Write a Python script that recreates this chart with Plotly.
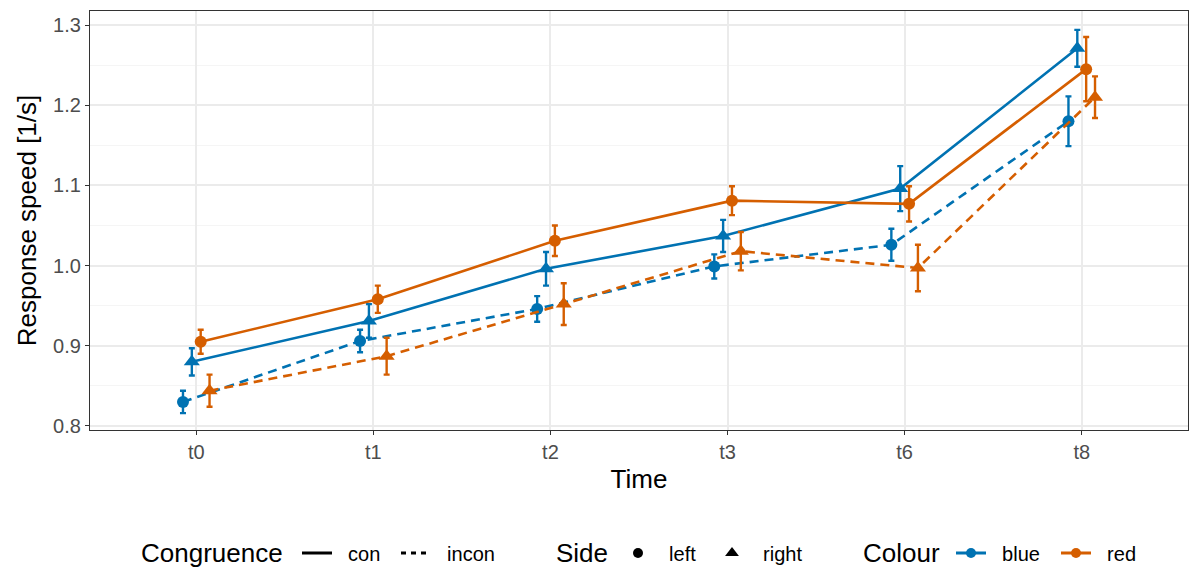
import plotly.graph_objects as go

times = ["t0", "t1", "t2", "t3", "t6", "t8"]

blue_con = [0.880, 0.931, 0.996, 1.037, 1.096, 1.271]
blue_con_err = [0.017, 0.021, 0.021, 0.020, 0.028, 0.023]
blue_incon = [0.830, 0.906, 0.946, 0.999, 1.026, 1.180]
blue_incon_err = [0.014, 0.014, 0.016, 0.015, 0.020, 0.031]
red_con = [0.905, 0.958, 1.031, 1.081, 1.077, 1.245]
red_con_err = [0.015, 0.017, 0.019, 0.018, 0.022, 0.040]
red_incon = [0.844, 0.887, 0.952, 1.018, 0.997, 1.210]
red_incon_err = [0.020, 0.023, 0.026, 0.024, 0.029, 0.026]

legend_titles = ["Congruence", "Side", "Colour"]

BLUE = "#0072B2"
RED = "#D55E00"
FONT = "Liberation Sans, Arial, sans-serif"
NB = "\u00a0\u00a0"

series = [
    # name, values, errors, colour, dash, symbol, dodge offset
    ("blue incon", blue_incon, blue_incon_err, BLUE, "9px,6px", "circle", -0.075),
    ("blue con", blue_con, blue_con_err, BLUE, "solid", "triangle-up", -0.025),
    ("red con", red_con, red_con_err, RED, "solid", "circle", 0.025),
    ("red incon", red_incon, red_incon_err, RED, "9px,6px", "triangle-up", 0.075),
]

fig = go.Figure()
idx = list(range(len(times)))
for name, vals, errs, col, dash, sym, off in series:
    fig.add_trace(go.Scatter(
        x=[i + off for i in idx], y=vals, mode="lines+markers", name=name,
        line=dict(color=col, width=2.6, dash=dash),
        marker=dict(color=col, symbol=sym, size=12 if sym == "circle" else 14),
        error_y=dict(type="data", array=errs, visible=True, color=col, thickness=2.4, width=3),
        showlegend=False, hoverinfo="skip",
    ))

# legend entries: (label, mode, line, marker, item start px)
entries = [
    ("con", "lines", dict(color="black", width=3), None, 298),
    ("incon", "lines", dict(color="black", width=3, dash="5px,5px"), None, 397),
    ("left", "markers", None, dict(color="black", symbol="circle", size=10), 619),
    ("right", "markers", None, dict(color="black", symbol="triangle-up", size=12), 713),
    ("blue", "lines+markers", dict(color=BLUE, width=3), dict(color=BLUE, size=10), 952),
    ("red", "lines+markers", dict(color=RED, width=3), dict(color=RED, size=10), 1057),
]
title_x = [140, 555, 862]

LEG_Y_PX = 553
layout_legends = {}
for k, (lab, mode, ln, mk, s) in enumerate(entries):
    key = "legend" if k == 0 else f"legend{k + 1}"
    kw = dict(x=[None], y=[None], mode=mode, name=NB + lab, legend=key, showlegend=True)
    if ln is not None:
        kw["line"] = ln
    if mk is not None:
        kw["marker"] = mk
    fig.add_trace(go.Scatter(**kw))
    layout_legends[key] = dict(
        orientation="h", xref="container", yref="container",
        x=(s - 1) / 1189, xanchor="left", y=1 - LEG_Y_PX / 571, yanchor="middle",
        font=dict(size=20, family=FONT, color="black"), bgcolor="rgba(0,0,0,0)",
        itemwidth=30, borderwidth=0,
    )

PL, PR, PT, PB = 90, 1188, 11, 430
annotations = []
for t, px in zip(legend_titles, title_x):
    annotations.append(dict(
        text=t, xref="paper", yref="paper", x=(px - PL) / (PR - PL),
        y=(PB - LEG_Y_PX) / (PB - PT), xanchor="left", yanchor="middle",
        showarrow=False, font=dict(size=26, family=FONT, color="black"), borderpad=0,
    ))

fig.update_layout(
    width=1189, height=571,
    margin=dict(l=PL, r=1189 - PR, t=PT, b=571 - PB),
    paper_bgcolor="white", plot_bgcolor="white",
    font=dict(family=FONT, color="black"),
    annotations=annotations,
    xaxis=dict(
        range=[-0.6, 5.6], tickmode="array", tickvals=idx, ticktext=times,
        showgrid=True, gridcolor="#EBEBEB", gridwidth=1.5, zeroline=False,
        showline=True, mirror=True, linecolor="#333333", linewidth=1.2,
        ticks="outside", ticklen=4, tickcolor="#333333", tickwidth=1.2,
        tickfont=dict(size=20, color="#4D4D4D", family=FONT),
        title=dict(text="Time", font=dict(size=26, color="black", family=FONT), standoff=7),
    ),
    yaxis=dict(
        range=[0.795, 1.3175], tick0=0.8, dtick=0.1, tickformat=".1f",
        showgrid=True, gridcolor="#EBEBEB", gridwidth=1.5, zeroline=False,
        minor=dict(dtick=0.05, tick0=0.8, showgrid=True, gridcolor="#F5F5F5", gridwidth=1),
        showline=True, mirror=True, linecolor="#333333", linewidth=1.2,
        ticks="outside", ticklen=4, tickcolor="#333333", tickwidth=1.2,
        tickfont=dict(size=20, color="#4D4D4D", family=FONT),
        title=dict(text="Response speed [1/s]", font=dict(size=26, color="black", family=FONT),
                   standoff=8),
    ),
    **layout_legends,
)

fig.write_html("out.html")
